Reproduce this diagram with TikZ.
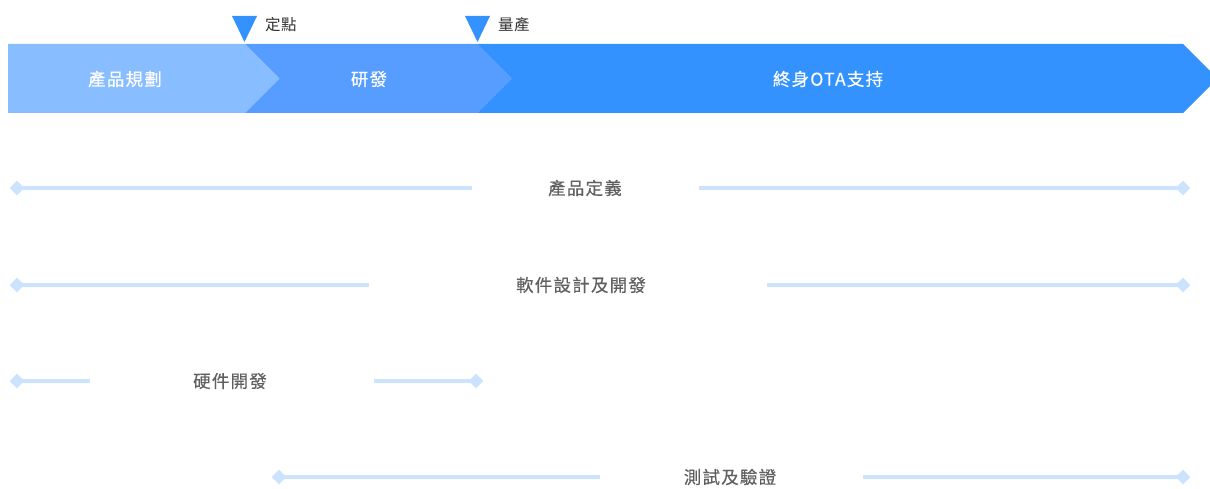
\documentclass[tikz,border=0pt]{standalone}
\usepackage{fontspec}
\newfontfamily\tc{Noto Sans CJK TC}[LetterSpace=3]
\newfontfamily\tcs{Noto Sans CJK TC}[LetterSpace=7,FakeBold=0.4]
\usetikzlibrary{shapes.geometric}
\definecolor{segA}{HTML}{88BDFF}
\definecolor{segB}{HTML}{579CFF}
\definecolor{segC}{HTML}{3492FF}
\definecolor{rowline}{HTML}{CCE3FF}
\definecolor{rowtext}{HTML}{606060}
\definecolor{marktext}{HTML}{333333}
\tikzset{
  seglabel/.style={text=white, font=\tcs\fontsize{17.5}{20}\selectfont, inner sep=0},
  rowlabel/.style={text=rowtext, font=\tcs\fontsize{17.5}{20}\selectfont, inner sep=0},
  marklabel/.style={text=marktext, font=\tc\fontsize{15.5}{18}\selectfont, inner sep=0, anchor=west},
  rowline/.style={draw=rowline, line width=3.2pt},
  endmark/.style={diamond, fill=rowline, minimum width=15pt, minimum height=15pt, inner sep=0},
  milestone/.style={fill=segC},
}
\begin{document}
\begin{tikzpicture}[x=1pt,y=-1pt]
\useasboundingbox (0,0) rectangle (1210,489);
\clip (0,0) rectangle (1210,489);
% banner
\fill[segA] (8,44) -- (245,44) -- (279.5,78.5) -- (245,113) -- (8,113) -- cycle;
\fill[segB] (245,44) -- (477,44) -- (511.5,78.5) -- (477,113) -- (245,113) -- (279.5,78.5) -- cycle;
\fill[segC] (477,44) -- (1183,44) -- (1217.5,78.5) -- (1183,113) -- (477,113) -- (511.5,78.5) -- cycle;
\node[seglabel] (s1) at (125,79) {產品規劃};
\node[seglabel] (s2) at (369,79) {研發};
\node[seglabel] (s3) at (828,79) {終身OTA支持};
% milestones
\fill[milestone] (232,16) -- (257,16) -- (244.5,42) -- cycle;
\fill[milestone] (465,16) -- (490,16) -- (477.5,42) -- cycle;
\node[marklabel] (m1) at (265,25) {定點};
\node[marklabel] (m2) at (498,25) {量產};
% row 1
\node[rowlabel] (r1) at (585,188) {產品定義};
\node[endmark] (r1a) at (17,188) {};
\node[endmark] (r1b) at (1183,188) {};
\coordinate (r1c) at (472,188);
\coordinate (r1d) at (699,188);
% row 2
\node[rowlabel] (r2) at (581,285) {軟件設計及開發};
\node[endmark] (r2a) at (17,285) {};
\node[endmark] (r2b) at (1183,285) {};
\coordinate (r2c) at (369,285);
\coordinate (r2d) at (767,285);
% row 3
\node[rowlabel] (r3) at (230,381) {硬件開發};
\node[endmark] (r3a) at (17,381) {};
\node[endmark] (r3b) at (476,381) {};
\coordinate (r3c) at (90,381);
\coordinate (r3d) at (374,381);
% row 4
\node[rowlabel] (r4) at (730,477) {測試及驗證};
\node[endmark] (r4a) at (279,477) {};
\node[endmark] (r4b) at (1183,477) {};
\coordinate (r4c) at (600,477);
\coordinate (r4d) at (863,477);
% connectors
\draw[rowline] (r1a.center) -- (r1c);
\draw[rowline] (r1d) -- (r1b.center);
\draw[rowline] (r2a.center) -- (r2c);
\draw[rowline] (r2d) -- (r2b.center);
\draw[rowline] (r3a.center) -- (r3c);
\draw[rowline] (r3d) -- (r3b.center);
\draw[rowline] (r4a.center) -- (r4c);
\draw[rowline] (r4d) -- (r4b.center);
\end{tikzpicture}
\end{document}
